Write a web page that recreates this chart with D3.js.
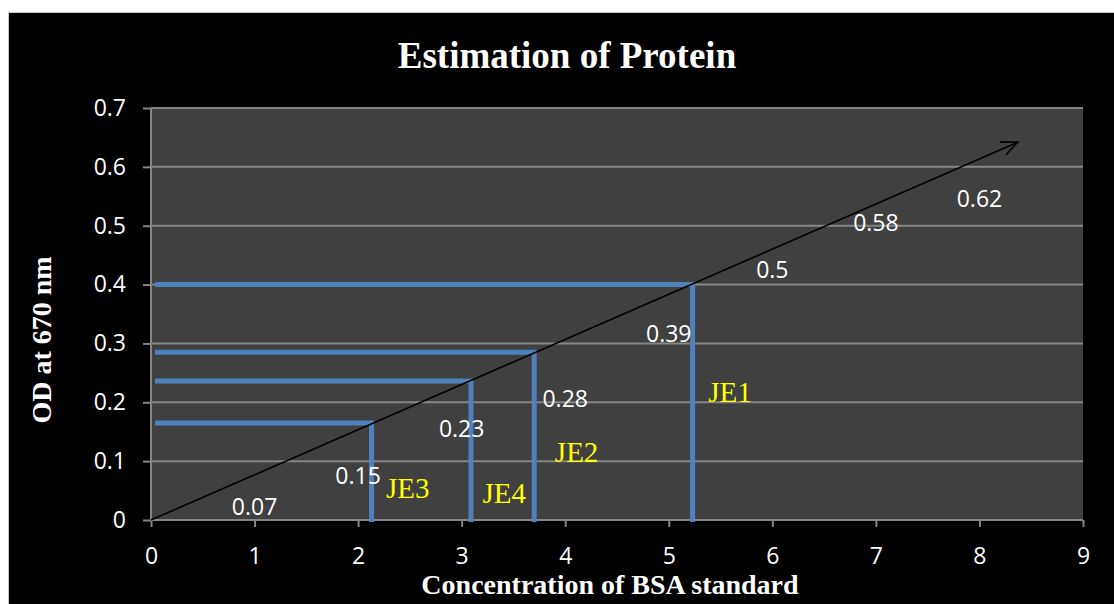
<!DOCTYPE html>
<html lang="en">
  <head>
    <meta charset="utf-8" />
    <title>Estimation of Protein</title>
    <script src="https://d3js.org/d3.v7.min.js"></script>
    <style>
      body { margin: 0; background: #fff; }
      svg { display: block; }
    </style>
  </head>
  <body>
    <div id="chart"></div>
    <script>
      // standard curve data labels (BSA concentration vs OD)
      var stdConc = [1, 2, 3, 4, 5, 6, 7, 8];
      var stdOD = [0.07, 0.15, 0.23, 0.28, 0.39, 0.5, 0.58, 0.62];

      // samples
      var sampleNames = ["JE1", "JE2", "JE4", "JE3"];
      var sampleConc = [5.23, 3.7, 3.09, 2.13];
      var sampleOD = [0.4, 0.285, 0.236, 0.165];
      // where each sample name sits (data units)
      var sampleLabelConc = [5.38, 3.9, 3.2, 2.27];
      var sampleLabelOD = [0.218, 0.115, 0.046, 0.054];

      // hand drawn arrow along the curve
      var arrowFrom = [0, 0];
      var arrowTo = [8.37, 0.642];

      var xTicks = [0, 1, 2, 3, 4, 5, 6, 7, 8, 9];
      var yTicks = [0, 0.1, 0.2, 0.3, 0.4, 0.5, 0.6, 0.7];

      var width = 1114;
      var height = 604;

      var svg = d3
        .select("#chart")
        .append("svg")
        .attr("width", width)
        .attr("height", height);

      // black chart frame
      svg
        .append("rect")
        .attr("x", 8.5)
        .attr("y", 12.5)
        .attr("width", width)
        .attr("height", height)
        .attr("fill", "#000")
        .attr("stroke", "#c8c8c8")
        .attr("stroke-width", 1);

      var x = d3.scaleLinear().domain([0, 9]).range([151, 1083]);
      var y = d3.scaleLinear().domain([0, 0.7]).range([520, 108]);

      // plot area
      svg
        .append("rect")
        .attr("x", x(0))
        .attr("y", y(0.7))
        .attr("width", x(9) - x(0))
        .attr("height", y(0) - y(0.7))
        .attr("fill", "#404040");

      // gridlines
      svg
        .append("g")
        .selectAll("line")
        .data(yTicks)
        .enter()
        .append("line")
        .attr("x1", x(0))
        .attr("x2", x(9))
        .attr("y1", function (d) { return y(d); })
        .attr("y2", function (d) { return y(d); })
        .attr("stroke", "#868686")
        .attr("stroke-width", 2);

      var axisFont = "'Open Sans', sans-serif";

      var yAxis = svg
        .append("g")
        .attr("transform", "translate(" + x(0) + ",0)")
        .call(
          d3.axisLeft(y)
            .tickValues(yTicks)
            .tickSize(8)
            .tickPadding(17)
            .tickFormat(function (d) { return d === 0 ? "0" : d3.format(".1f")(d); })
        );

      var xAxis = svg
        .append("g")
        .attr("transform", "translate(0," + y(0) + ")")
        .call(
          d3.axisBottom(x)
            .tickValues(xTicks)
            .tickSize(7)
            .tickPadding(21)
            .tickFormat(d3.format("d"))
        );

      [xAxis, yAxis].forEach(function (ax) {
        ax.select(".domain").attr("stroke", "#868686").attr("stroke-width", 2);
        ax.selectAll(".tick line").attr("stroke", "#868686").attr("stroke-width", 2);
        ax.selectAll(".tick text")
          .attr("fill", "#fff")
          .style("font-family", axisFont)
          .style("font-size", "23px");
      });
      xAxis.select(".domain").attr("d", "M" + x(0) + ",0H" + x(9));
      yAxis.select(".domain").attr("d", "M0," + y(0) + "V" + y(0.7));

      // sample guide lines
      var blue = "#4f81bd";
      var samples = sampleNames.map(function (name, i) {
        return {
          name: name,
          conc: sampleConc[i],
          od: sampleOD[i],
          lx: sampleLabelConc[i],
          ly: sampleLabelOD[i],
        };
      });

      var guides = svg.append("g");
      guides
        .selectAll("path")
        .data(samples)
        .enter()
        .append("path")
        .attr("d", function (d) {
          return (
            "M" + (x(0) + 4) + "," + y(d.od) +
            "H" + x(d.conc) +
            "V" + (y(0) + 2)
          );
        })
        .attr("fill", "none")
        .attr("stroke", blue)
        .attr("stroke-width", 5)
        .attr("stroke-linejoin", "miter");

      // arrow
      svg
        .append("defs")
        .append("marker")
        .attr("id", "head")
        .attr("viewBox", "0 0 20 20")
        .attr("refX", 18)
        .attr("refY", 10)
        .attr("markerWidth", 20)
        .attr("markerHeight", 20)
        .attr("markerUnits", "userSpaceOnUse")
        .attr("orient", "auto")
        .append("path")
        .attr("d", "M2,3 L18,10 L2,17")
        .attr("fill", "none")
        .attr("stroke", "#000")
        .attr("stroke-width", 1.6);

      svg
        .append("line")
        .attr("x1", x(arrowFrom[0]))
        .attr("y1", y(arrowFrom[1]))
        .attr("x2", x(arrowTo[0]))
        .attr("y2", y(arrowTo[1]))
        .attr("stroke", "#000")
        .attr("stroke-width", 1.6)
        .attr("marker-end", "url(#head)");

      // data labels of the standards
      svg
        .append("g")
        .selectAll("text")
        .data(stdConc)
        .enter()
        .append("text")
        .attr("x", function (d) { return x(d); })
        .attr("y", function (d, i) {
          return Math.min(y(stdOD[i]) + 43, y(0) - 14);
        })
        .attr("text-anchor", "middle")
        .attr("dominant-baseline", "central")
        .attr("fill", "#fff")
        .style("font-family", axisFont)
        .style("font-size", "23px")
        .text(function (d, i) { return stdOD[i]; });

      // sample names
      svg
        .append("g")
        .selectAll("text")
        .data(samples)
        .enter()
        .append("text")
        .attr("x", function (d) { return x(d.lx); })
        .attr("y", function (d) { return y(d.ly); })
        .attr("dominant-baseline", "central")
        .attr("fill", "#ffff00")
        .style("font-family", "'Liberation Serif', 'Times New Roman', serif")
        .style("font-size", "29px")
        .text(function (d) { return d.name; });

      // titles
      svg
        .append("text")
        .attr("x", 567)
        .attr("y", 68)
        .attr("text-anchor", "middle")
        .attr("fill", "#fff")
        .style("font-family", "'Liberation Serif', 'Times New Roman', serif")
        .style("font-weight", "bold")
        .style("font-size", "37px")
        .text("Estimation of Protein");

      svg
        .append("text")
        .attr("x", 610)
        .attr("y", 594)
        .attr("text-anchor", "middle")
        .attr("fill", "#fff")
        .style("font-family", "'Liberation Serif', 'Times New Roman', serif")
        .style("font-weight", "bold")
        .style("font-size", "28px")
        .text("Concentration of BSA standard");

      svg
        .append("text")
        .attr("transform", "translate(51,340) rotate(-90)")
        .attr("text-anchor", "middle")
        .attr("fill", "#fff")
        .style("font-family", "'Liberation Serif', 'Times New Roman', serif")
        .style("font-weight", "bold")
        .style("font-size", "28px")
        .text("OD at 670 nm");
    </script>
  </body>
</html>
